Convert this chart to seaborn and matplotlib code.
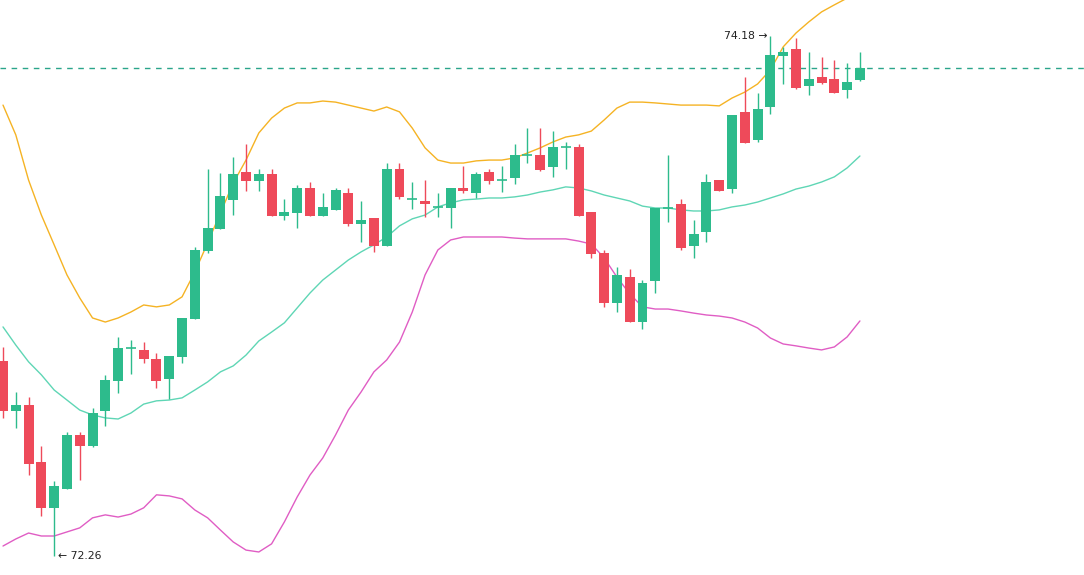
import numpy as np
import pandas as pd
import matplotlib
matplotlib.use("Agg")
import matplotlib.pyplot as plt
import seaborn as sns

# ---- candle data (price) ----
opens = [72.980, 72.797, 72.818, 72.606, 72.436, 72.506, 72.707, 72.667, 72.797, 72.907,
         73.027, 73.021, 72.987, 72.914, 72.996, 73.136, 73.386, 73.469, 73.575, 73.678,
         73.646, 73.670, 73.517, 73.528, 73.619, 73.517, 73.538, 73.599, 73.487, 73.508,
         73.406, 73.689, 73.577, 73.571, 73.548, 73.546, 73.619, 73.599, 73.679, 73.647,
         73.657, 73.742, 73.742, 73.697, 73.770, 73.770, 73.530, 73.379, 73.194, 73.290,
         73.125, 73.277, 73.546, 73.561, 73.406, 73.457, 73.648, 73.616, 73.901, 73.796,
         73.919, 74.107, 74.132, 73.997, 74.029, 74.021, 73.980, 74.019]
highs = [73.032, 72.867, 72.848, 72.667, 72.538, 72.718, 72.718, 72.808, 72.928, 73.069,
         73.058, 73.049, 73.009, 72.999, 73.138, 73.400, 73.689, 73.673, 73.732, 73.780,
         73.689, 73.689, 73.578, 73.631, 73.640, 73.601, 73.619, 73.619, 73.572, 73.508,
         73.710, 73.710, 73.640, 73.648, 73.601, 73.619, 73.700, 73.679, 73.689, 73.700,
         73.780, 73.840, 73.840, 73.829, 73.788, 73.781, 73.530, 73.390, 73.328, 73.319,
         73.279, 73.546, 73.741, 73.578, 73.501, 73.669, 73.648, 73.888, 74.030, 73.971,
         74.180, 74.138, 74.172, 74.121, 74.101, 74.091, 74.079, 74.121]
lows = [72.770, 72.733, 72.559, 72.409, 72.260, 72.506, 72.541, 72.661, 72.740, 72.861,
        72.932, 72.972, 72.879, 72.840, 72.972, 73.136, 73.380, 73.469, 73.520, 73.609,
        73.609, 73.517, 73.501, 73.471, 73.517, 73.517, 73.538, 73.479, 73.421, 73.381,
        73.406, 73.578, 73.542, 73.512, 73.511, 73.472, 73.601, 73.582, 73.632, 73.603,
        73.632, 73.712, 73.682, 73.661, 73.690, 73.517, 73.361, 73.181, 73.161, 73.125,
        73.099, 73.230, 73.492, 73.390, 73.361, 73.421, 73.609, 73.601, 73.786, 73.790,
        73.892, 74.002, 73.983, 73.961, 74.002, 73.968, 73.951, 74.014]
closes = [72.796, 72.818, 72.600, 72.436, 72.519, 72.707, 72.667, 72.787, 72.910, 73.028,
          73.027, 72.986, 72.907, 72.999, 73.138, 73.390, 73.471, 73.589, 73.670, 73.646,
          73.670, 73.517, 73.530, 73.619, 73.517, 73.549, 73.611, 73.487, 73.501, 73.406,
          73.689, 73.587, 73.577, 73.558, 73.548, 73.619, 73.609, 73.670, 73.646, 73.647,
          73.741, 73.742, 73.685, 73.771, 73.770, 73.517, 73.376, 73.194, 73.298, 73.125,
          73.267, 73.546, 73.546, 73.398, 73.448, 73.641, 73.609, 73.888, 73.786, 73.910,
          74.110, 74.122, 73.989, 74.020, 74.008, 73.968, 74.010, 74.062]

# ---- Bollinger bands ----
upper = [73.925, 73.815, 73.648, 73.519, 73.409, 73.298, 73.213, 73.139, 73.124, 73.139,
         73.161, 73.187, 73.180, 73.187, 73.217, 73.309, 73.416, 73.527, 73.637, 73.722,
         73.822, 73.877, 73.914, 73.933, 73.933, 73.940, 73.936, 73.925, 73.914, 73.903,
         73.918, 73.900, 73.840, 73.767, 73.722, 73.711, 73.711, 73.719, 73.722, 73.722,
         73.730, 73.748, 73.767, 73.789, 73.807, 73.815, 73.829, 73.870, 73.914, 73.936,
         73.936, 73.933, 73.929, 73.925, 73.925, 73.925, 73.922, 73.951, 73.973, 74.003,
         74.055, 74.140, 74.191, 74.232, 74.269, 74.295, 74.320, 74.343]
middle = [73.106, 73.039, 72.977, 72.929, 72.873, 72.836, 72.799, 72.781, 72.770, 72.766,
          72.788, 72.821, 72.833, 72.836, 72.844, 72.873, 72.903, 72.940, 72.962, 73.002,
          73.054, 73.087, 73.121, 73.176, 73.231, 73.279, 73.316, 73.353, 73.383, 73.409,
          73.438, 73.479, 73.505, 73.519, 73.549, 73.564, 73.575, 73.578, 73.582, 73.582,
          73.586, 73.593, 73.604, 73.612, 73.623, 73.619, 73.608, 73.593, 73.582, 73.571,
          73.552, 73.545, 73.545, 73.538, 73.534, 73.534, 73.538, 73.549, 73.556, 73.567,
          73.582, 73.597, 73.615, 73.626, 73.641, 73.660, 73.693, 73.737]
lower = [72.297, 72.323, 72.345, 72.334, 72.334, 72.349, 72.364, 72.401, 72.412, 72.404,
         72.415, 72.438, 72.486, 72.482, 72.471, 72.430, 72.401, 72.356, 72.312, 72.282,
         72.275, 72.305, 72.386, 72.478, 72.559, 72.622, 72.707, 72.799, 72.866, 72.940,
         72.984, 73.050, 73.161, 73.298, 73.390, 73.427, 73.438, 73.438, 73.438, 73.438,
         73.434, 73.431, 73.431, 73.431, 73.431, 73.423, 73.412, 73.361, 73.290, 73.228,
         73.180, 73.172, 73.172, 73.165, 73.157, 73.150, 73.146, 73.139, 73.124, 73.102,
         73.065, 73.043, 73.036, 73.028, 73.021, 73.032, 73.069, 73.128]

high_label = "74.18 \u2192"
low_label = "\u2190 72.26"

GREEN = "#2dbb8c"
RED = "#ee4a5a"
ORANGE = "#f5b324"
TEAL = "#5fd6b5"
MAGENTA = "#e05dc4"

sns.set_style("white")
plt.rcParams["font.family"] = ["DejaVu Sans"]

fig = plt.figure(figsize=(10.84, 5.75), dpi=100)
ax = fig.add_axes([0, 0, 1, 1])

n = len(opens)
x = np.arange(n)
df = pd.DataFrame({"x": x, "upper": upper, "middle": middle, "lower": lower,
                   "open": opens, "high": highs, "low": lows, "close": closes})

sns.lineplot(data=df, x="x", y="upper", color=ORANGE, lw=1.0, ax=ax)
sns.lineplot(data=df, x="x", y="middle", color=TEAL, lw=1.0, ax=ax)
sns.lineplot(data=df, x="x", y="lower", color=MAGENTA, lw=1.0, ax=ax)

o = df["open"].values
c = df["close"].values
h = df["high"].values
l = df["low"].values
up = c >= o
colors = np.where(up, GREEN, RED)

ax.vlines(x, l, h, colors=colors, lw=1.0, zorder=3)
body_w = 0.78
ax.bar(x, np.abs(c - o), bottom=np.minimum(o, c), width=body_w,
       color=colors, edgecolor="none", zorder=4)
doji = np.abs(c - o) < 0.004
ax.hlines(c[doji], x[doji] - body_w / 2, x[doji] + body_w / 2,
          colors=colors[doji], lw=1.2, zorder=4)

# last price dashed line
ax.axhline(closes[-1], color="#2aa58a", lw=1.0, ls=(0, (4, 4)), zorder=2)

# high / low labels
hi_idx = int(np.argmax(h))
lo_idx = int(np.argmin(l))
ax.annotate(high_label, xy=(hi_idx, h[hi_idx]), xytext=(-2, 0),
            textcoords="offset points", ha="right", va="center",
            fontsize=7.8, color="#222222")
ax.annotate(low_label, xy=(lo_idx, l[lo_idx]), xytext=(3, 0),
            textcoords="offset points", ha="left", va="center",
            fontsize=7.8, color="#222222")

ax.set_xlim(-0.235, 84.52)
ax.set_ylim(72.190, 74.313)
ax.axis("off")

fig.savefig("out.png", dpi=100)
